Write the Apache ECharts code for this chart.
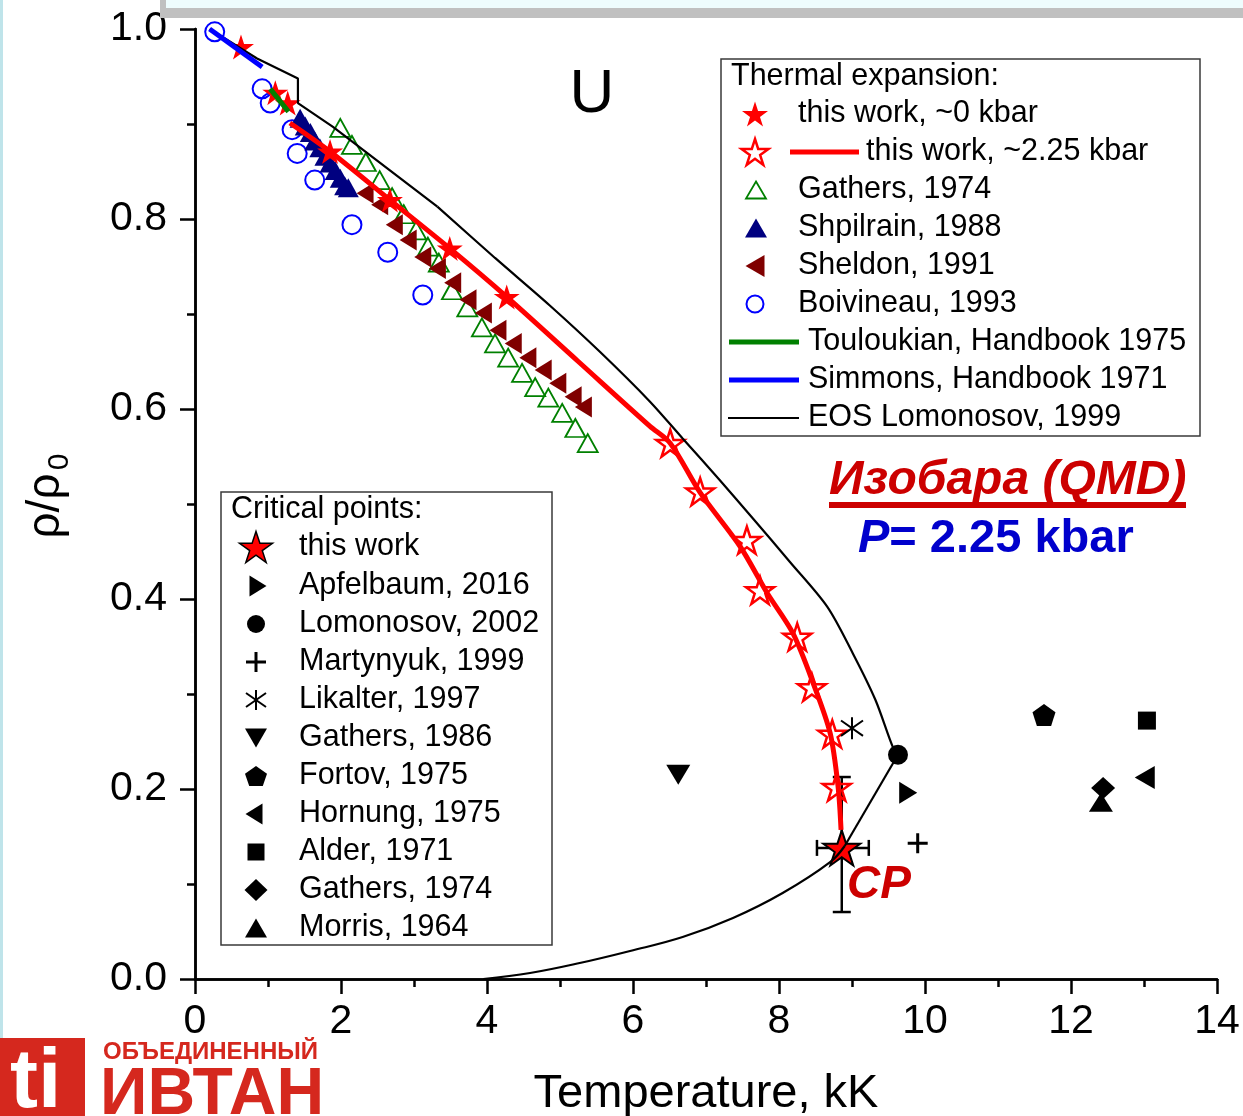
<!DOCTYPE html>
<html>
<head>
<meta charset="utf-8">
<script src="https://cdn.jsdelivr.net/npm/echarts@6/dist/echarts.min.js"></script>
<style>
  html, body { margin: 0; padding: 0; background: #fff; }
  #chart { width: 1243px; height: 1116px; }
</style>
</head>
<body>
<div id="chart"></div>
<script>
const FONT = "'Liberation Sans', Arial, Helvetica, sans-serif";

// axes
const xRange = [0, 14], xStep = 2;
const yRange = [0, 1], yStep = 0.2;

// thermal expansion (T in kK, rho/rho0)
const thisWork0 = [[0.63, 0.981], [1.10, 0.933], [1.27, 0.922], [1.85, 0.871], [2.67, 0.820], [3.49, 0.769], [4.27, 0.718]];
const thisWork225 = [[6.51, 0.564], [6.92, 0.513], [7.56, 0.462], [7.74, 0.409], [8.25, 0.360], [8.45, 0.307], [8.73, 0.258], [8.79, 0.202]];
const isobarLine = [[1.30, 0.901], [1.85, 0.871], [2.67, 0.820], [3.49, 0.769], [4.27, 0.718], [5.25, 0.650], [6.23, 0.582],
  [6.51, 0.564], [6.92, 0.512], [7.47, 0.455], [7.84, 0.406], [8.19, 0.364], [8.47, 0.311], [8.70, 0.259], [8.81, 0.202], [8.85, 0.157]];
const gathers1974 = [[1.99, 0.896], [2.15, 0.878], [2.34, 0.860], [2.53, 0.841], [2.70, 0.823], [2.86, 0.805], [3.03, 0.788],
  [3.19, 0.771], [3.34, 0.754], [3.52, 0.725], [3.73, 0.707], [3.93, 0.686], [4.11, 0.669], [4.29, 0.654], [4.48, 0.638],
  [4.66, 0.623], [4.84, 0.612], [5.03, 0.596], [5.21, 0.580], [5.38, 0.564]];
const shpilrain1988 = [[1.44, 0.906], [1.51, 0.898], [1.58, 0.891], [1.64, 0.882], [1.71, 0.875], [1.78, 0.866], [1.85, 0.859],
  [1.92, 0.851], [1.99, 0.843], [2.05, 0.835], [2.10, 0.833]];
const sheldon1991 = [[2.33, 0.827], [2.53, 0.815], [2.73, 0.794], [2.92, 0.778], [3.12, 0.760], [3.32, 0.748], [3.53, 0.733],
  [3.74, 0.715], [3.95, 0.701], [4.15, 0.683], [4.36, 0.669], [4.56, 0.654], [4.77, 0.641], [4.97, 0.627], [5.18, 0.613], [5.32, 0.602]];
const boivineau1993 = [[0.27, 0.997], [0.92, 0.937], [1.03, 0.922], [1.33, 0.894], [1.40, 0.869], [1.64, 0.841], [2.15, 0.794], [2.64, 0.765], [3.12, 0.720]];
const touloukian1975 = [[1.03, 0.937], [1.28, 0.913]];
const simmons1971 = [[0.20, 1.0], [0.92, 0.960]];
const eosSolid = [[0.20, 1.0], [0.85, 0.969], [1.41, 0.948], [1.41, 0.922], [1.89, 0.897], [3.32, 0.813]];
const eosLiquid = [[3.32, 0.813], [4.11, 0.759], [4.86, 0.709], [5.55, 0.660], [6.23, 0.608], [6.68, 0.569], [7.19, 0.525],
  [7.64, 0.485], [8.15, 0.439], [8.66, 0.392], [9.01, 0.343], [9.32, 0.294], [9.56, 0.244], [9.63, 0.236]];
const eosVapour = [[9.63, 0.236], [8.90, 0.140]];
const eosGas = [[8.90, 0.140], [8.70, 0.123], [8.05, 0.0905], [7.37, 0.0642], [6.68, 0.0442], [5.96, 0.0295],
  [5.27, 0.0168], [4.59, 0.0063], [3.95, 0.0]];

// critical points: [T, rho/rho0]
const cpThisWork = [[8.86, 0.138]];
const cpError = [[8.86, 0.138, 8.52, 9.23, 0.0705, 0.2126]]; // T, rho, Tlo, Thi, rholo, rhohi
const apfelbaum2016 = [[9.77, 0.196]];
const lomonosov2002 = [[9.63, 0.236]];
const martynyuk1999 = [[9.90, 0.143]];
const likalter1997 = [[9.00, 0.264]];
const gathers1986 = [[6.62, 0.215]];
const fortov1975 = [[11.63, 0.278]];
const hornung1975 = [[13.01, 0.212]];
const alder1971 = [[13.04, 0.272]];
const gathersCP1974 = [[12.44, 0.201]];
const morris1964 = [[12.41, 0.186]];

const SYM = {
  star: 'M50,0 L61.23,34.55 L97.55,34.55 L68.17,55.9 L79.39,90.45 L50,69.1 L20.61,90.45 L31.83,55.9 L2.45,34.55 L38.77,34.55 Z',
  pentagon: 'M50,0 L97.55,34.55 L79.39,90.45 L20.61,90.45 L2.45,34.55 Z',
  triUp: 'M50,0 L100,87 L0,87 Z',
  triDown: 'M0,0 L100,0 L50,87 Z',
  triLeft: 'M0,50 L87,0 L87,100 Z',
  triRight: 'M0,0 L87,50 L0,100 Z',
  plus: 'M50,0 L50,100 M0,50 L100,50',
  aster: 'M50,0 L50,100 M15,15 L85,85 M15,85 L85,15',
  diamond: 'M50,0 L100,50 L50,100 L0,50 Z',
  square: 'M0,0 L100,0 L100,100 L0,100 Z'
};

function scatter(name, data, sym, size, itemStyle) {
  return {
    name, type: 'scatter', data, silent: true,
    symbol: sym === 'circle' ? 'circle' : 'path://' + SYM[sym],
    symbolSize: size, itemStyle: Object.assign({ opacity: 1 }, itemStyle)
  };
}
function line(name, data, color, width, smooth) {
  return {
    name, type: 'line', data, silent: true, showSymbol: false, symbol: 'none',
    smooth: smooth || false, lineStyle: { color, width }
  };
}

const red = '#ff0000';
const series = [
  line('EOS Lomonosov, 1999', eosSolid, '#000', 2.2),
  line('EOS Lomonosov, 1999', eosLiquid, '#000', 2.2, 0.3),
  line('EOS Lomonosov, 1999', eosVapour, '#000', 2.2),
  line('EOS Lomonosov, 1999', eosGas, '#000', 2.2, 0.4),
  line('Simmons, Handbook 1971', simmons1971, '#0000ff', 5),
  line('Touloukian, Handbook 1975', touloukian1975, '#008000', 5),
  scatter('Gathers, 1974', gathers1974, 'triUp', [20, 18], { color: 'transparent', borderColor: '#008000', borderWidth: 1.8 }),
  scatter('Sheldon, 1991', sheldon1991, 'triLeft', [17, 21], { color: '#800000' }),
  scatter('Boivineau, 1993', boivineau1993, 'circle', 19, { color: 'transparent', borderColor: '#0000ff', borderWidth: 2 }),
  scatter('Shpilrain, 1988', shpilrain1988, 'triUp', [21, 19], { color: '#000080' }),
  line('this work, ~2.25 kbar', isobarLine, red, 5, 0.3),
  scatter('this work, ~2.25 kbar', thisWork225, 'star', [28, 27], { color: 'transparent', borderColor: red, borderWidth: 2.5 }),
  scatter('this work, ~0 kbar', thisWork0, 'star', [26, 25], { color: red }),
  scatter('Apfelbaum, 2016', apfelbaum2016, 'triRight', [18, 22], { color: '#000' }),
  scatter('Lomonosov, 2002', lomonosov2002, 'circle', 20, { color: '#000' }),
  scatter('Martynyuk, 1999', martynyuk1999, 'plus', 20, { color: 'transparent', borderColor: '#000', borderWidth: 3 }),
  scatter('Likalter, 1997', likalter1997, 'aster', 22, { color: 'transparent', borderColor: '#000', borderWidth: 2 }),
  scatter('Gathers, 1986', gathers1986, 'triDown', [24, 20], { color: '#000' }),
  scatter('Fortov, 1975', fortov1975, 'pentagon', [23, 22], { color: '#000' }),
  scatter('Hornung, 1975', hornung1975, 'triLeft', [20, 23], { color: '#000' }),
  scatter('Alder, 1971', alder1971, 'square', 18, { color: '#000' }),
  scatter('Morris, 1964', morris1964, 'triUp', [24, 19], { color: '#000' }),
  scatter('Gathers, 1974 (CP)', gathersCP1974, 'diamond', [24, 22], { color: '#000' }),
  {
    type: 'custom', silent: true, data: cpError, encode: { x: 0, y: 1 },
    renderItem: (params, api) => {
      const c = api.coord([api.value(0), api.value(1)]);
      const xl = api.coord([api.value(2), api.value(1)])[0];
      const xh = api.coord([api.value(3), api.value(1)])[0];
      const yl = api.coord([api.value(0), api.value(4)])[1];
      const yh = api.coord([api.value(0), api.value(5)])[1];
      const st = { stroke: '#000', lineWidth: 2.5 };
      const seg = (x1, y1, x2, y2) => ({ type: 'line', shape: { x1, y1, x2, y2 }, style: st });
      return {
        type: 'group', children: [
          seg(xl, c[1], xh, c[1]), seg(xl, c[1] - 8, xl, c[1] + 8), seg(xh, c[1] - 8, xh, c[1] + 8),
          seg(c[0], yl, c[0], yh), seg(c[0] - 9, yl, c[0] + 9, yl), seg(c[0] - 9, yh, c[0] + 9, yh)
        ]
      };
    }
  },
  scatter('this work (CP)', cpThisWork, 'star', [37, 35], { color: red, borderColor: '#000', borderWidth: 2 })
];

// ---- legends and annotations (graphic) ----
// turn one of the simple SYM paths into polygon / polyline elements fitted into a box
function legSym(sym, cx, cy, w, h, style) {
  if (sym === 'circle') return [{ type: 'circle', z: 60, shape: { cx, cy, r: w / 2 }, style }];
  const d = SYM[sym];
  const subs = [];
  d.replace(/([ML])\s*([-\d.]+),([-\d.]+)/g, (m, cmd, x, y) => {
    if (cmd === 'M') subs.push([]);
    subs[subs.length - 1].push([+x, +y]);
    return m;
  });
  const all = subs.flat();
  const xs = all.map(p => p[0]), ys = all.map(p => p[1]);
  const x0 = Math.min(...xs), y0 = Math.min(...ys);
  const sx = w / (Math.max(...xs) - x0), sy = h / (Math.max(...ys) - y0);
  const closed = d.indexOf('Z') >= 0;
  return subs.map(s => ({
    type: closed ? 'polygon' : 'polyline', z: 60,
    shape: { points: s.map(p => [cx - w / 2 + (p[0] - x0) * sx, cy - h / 2 + (p[1] - y0) * sy]) },
    style
  }));
}
function legLine(x1, x2, y, color, width) {
  return { type: 'line', z: 60, shape: { x1, y1: y, x2, y2: y }, style: { stroke: color, lineWidth: width } };
}
const LF = 30.5; // legend font size
function txt(text, x, y, size, opts) {
  return {
    type: 'text', z: 60, x, y,
    style: Object.assign({ text, font: size + 'px ' + FONT, fill: '#000', textVerticalAlign: 'middle' }, opts || {})
  };
}

const graphics = [
  // slide decoration
  { type: 'rect', z: 100, shape: { x: 160, y: -20, width: 1100, height: 38 }, style: { fill: '#c0c0c0' } },
  { type: 'rect', z: 101, shape: { x: 166, y: -20, width: 1100, height: 28 }, style: { fill: '#eefcfd' } },
  { type: 'rect', z: 100, shape: { x: 0, y: 0, width: 3, height: 1116 }, style: { fill: '#bfe4ea' } },

  // legend: thermal expansion
  { type: 'rect', z: 55, shape: { x: 721, y: 59, width: 479, height: 377 }, style: { fill: '#fff', stroke: '#3a3a3a', lineWidth: 1.5 } },
  txt('Thermal expansion:', 731, 77, LF),
  ...legSym('star', 755, 114, 26, 25, { fill: red }),
  txt('this work, ~0 kbar', 798, 114, LF),
  ...legSym('star', 755, 152, 27, 26, { fill: 'none', stroke: red, lineWidth: 2.5 }),
  legLine(790, 859, 152, red, 5),
  txt('this work, ~2.25 kbar', 866, 152, LF),
  ...legSym('triUp', 756, 190, 20, 17, { fill: 'none', stroke: '#008000', lineWidth: 1.8 }),
  txt('Gathers, 1974', 798, 190, LF),
  ...legSym('triUp', 756, 228, 22, 19, { fill: '#000080' }),
  txt('Shpilrain, 1988', 798, 228, LF),
  ...legSym('triLeft', 755, 266, 19, 22, { fill: '#800000' }),
  txt('Sheldon, 1991', 798, 266, LF),
  ...legSym('circle', 755, 304, 17, 17, { fill: 'none', stroke: '#0000ff', lineWidth: 2 }),
  txt('Boivineau, 1993', 798, 304, LF),
  legLine(729, 799, 342, '#008000', 5),
  txt('Touloukian, Handbook 1975', 808, 342, LF),
  legLine(729, 799, 380, '#0000ff', 5),
  txt('Simmons, Handbook 1971', 808, 380, LF),
  legLine(728, 799, 418, '#000', 2),
  txt('EOS Lomonosov, 1999', 808, 418, LF),

  // legend: critical points
  { type: 'rect', z: 55, shape: { x: 221, y: 492, width: 331, height: 453 }, style: { fill: '#fff', stroke: '#3a3a3a', lineWidth: 1.5 } },
  txt('Critical points:', 231, 510, LF),
  ...legSym('star', 256, 547, 33, 31, { fill: red, stroke: '#000', lineWidth: 1.5 }),
  txt('this work', 299, 547, LF),
  ...legSym('triRight', 258, 586, 17, 21, { fill: '#000' }),
  txt('Apfelbaum, 2016', 299, 586, LF),
  ...legSym('circle', 256, 624, 18, 18, { fill: '#000' }),
  txt('Lomonosov, 2002', 299, 624, LF),
  ...legSym('plus', 256, 662, 20, 20, { fill: 'none', stroke: '#000', lineWidth: 3 }),
  txt('Martynyuk, 1999', 299, 662, LF),
  ...legSym('aster', 256, 700, 20, 20, { fill: 'none', stroke: '#000', lineWidth: 2 }),
  txt('Likalter, 1997', 299, 700, LF),
  ...legSym('triDown', 256, 738, 22, 19, { fill: '#000' }),
  txt('Gathers, 1986', 299, 738, LF),
  ...legSym('pentagon', 256, 776, 22, 20, { fill: '#000' }),
  txt('Fortov, 1975', 299, 776, LF),
  ...legSym('triLeft', 254, 814, 17, 21, { fill: '#000' }),
  txt('Hornung, 1975', 299, 814, LF),
  ...legSym('square', 256, 852, 17, 17, { fill: '#000' }),
  txt('Alder, 1971', 299, 852, LF),
  ...legSym('diamond', 256, 890, 23, 22, { fill: '#000' }),
  txt('Gathers, 1974', 299, 890, LF),
  ...legSym('triUp', 256, 928, 22, 19, { fill: '#000' }),
  txt('Morris, 1964', 299, 928, LF),

  // annotations
  txt('U', 592, 95, 62, { textAlign: 'center' }),
  txt('Изобара (QMD)', 829, 481, 48, { font: 'italic bold 48px ' + FONT, fill: '#cc0000' }),
  { type: 'rect', z: 60, shape: { x: 829, y: 502, width: 357, height: 6 }, style: { fill: '#cc0000' } },
  {
    type: 'text', z: 60, x: 858, y: 539,
    style: {
      text: '{i|P}{n|= 2.25 kbar}', textVerticalAlign: 'middle',
      rich: {
        i: { font: 'italic bold 47px ' + FONT, fill: '#0000cc' },
        n: { font: 'bold 47px ' + FONT, fill: '#0000cc' }
      }
    }
  },
  txt('CP', 847, 885, 46, { font: 'italic bold 46px ' + FONT, fill: '#cc0000' }),

  // y axis title
  { type: 'text', z: 60, x: 46, y: 506, rotation: Math.PI / 2,
    style: { text: 'ρ/ρ', font: '46px ' + FONT, fill: '#000', textAlign: 'center', textVerticalAlign: 'middle' } },
  { type: 'text', z: 60, x: 60, y: 462, rotation: Math.PI / 2,
    style: { text: '0', font: '30px ' + FONT, fill: '#000', textAlign: 'center', textVerticalAlign: 'middle' } },

  // logo
  { type: 'rect', z: 100, shape: { x: 0, y: 1038, width: 85, height: 80 }, style: { fill: '#d5281e' } },
  { type: 'text', z: 101, x: 10, y: 1084, style: { text: 'ti', font: 'bold 84px ' + FONT, fill: '#fff', textVerticalAlign: 'middle' } },
  { type: 'text', z: 100, x: 103, y: 1052, style: { text: 'ОБЪЕДИНЕННЫЙ', font: 'bold 24px ' + FONT, fill: '#d5281e', textVerticalAlign: 'middle' } },
  { type: 'text', z: 100, x: 100, y: 1096, style: { text: 'ИВТАН', font: 'bold 66px ' + FONT, fill: '#d5281e', textVerticalAlign: 'middle' } }
];

// ---- axes ----
const axisLineStyle = { color: '#000', width: 2.5 };
const labelStyle = { fontSize: 41, color: '#000', fontFamily: FONT };

const chart = echarts.init(document.getElementById('chart'));
chart.setOption({
  animation: false,
  backgroundColor: '#fff',
  grid: { left: 195, right: 26, top: 29, bottom: 137, outerBoundsMode: 'none', containLabel: false },
  xAxis: [
    {
      type: 'value', position: 'bottom', min: xRange[0], max: xRange[1], interval: xStep,
      name: 'Temperature, kK', nameLocation: 'middle', nameGap: 92,
      nameTextStyle: { fontSize: 47, color: '#000', fontFamily: FONT },
      axisLine: { show: true, lineStyle: axisLineStyle },
      axisTick: { show: true, inside: false, length: 15, lineStyle: axisLineStyle },
      minorTick: { show: true, splitNumber: 2, length: 8, lineStyle: axisLineStyle },
      axisLabel: Object.assign({ margin: 22 }, labelStyle),
      splitLine: { show: false }
    },
    {
      type: 'value', position: 'top', min: xRange[0], max: xRange[1], interval: xStep,
      axisLine: { show: true, lineStyle: axisLineStyle },
      axisTick: { show: true, inside: true, length: 15, lineStyle: axisLineStyle },
      minorTick: { show: true, splitNumber: 2, length: 8, lineStyle: axisLineStyle },
      axisLabel: { show: false },
      splitLine: { show: false }
    }
  ],
  yAxis: [
    {
      type: 'value', position: 'left', min: yRange[0], max: yRange[1], interval: yStep,
      axisLine: { show: true, lineStyle: axisLineStyle },
      axisTick: { show: true, inside: false, length: 15, lineStyle: axisLineStyle },
      minorTick: { show: true, splitNumber: 2, length: 8, lineStyle: axisLineStyle },
      axisLabel: Object.assign({ margin: 28, formatter: v => v.toFixed(1) }, labelStyle),
      splitLine: { show: false }
    },
    {
      type: 'value', position: 'right', min: yRange[0], max: yRange[1], interval: yStep,
      axisLine: { show: true, lineStyle: axisLineStyle },
      axisTick: { show: true, inside: true, length: 15, lineStyle: axisLineStyle },
      minorTick: { show: true, splitNumber: 2, length: 8, lineStyle: axisLineStyle },
      axisLabel: { show: false },
      splitLine: { show: false }
    }
  ],
  graphic: graphics,
  series
});
</script>
</body>
</html>
